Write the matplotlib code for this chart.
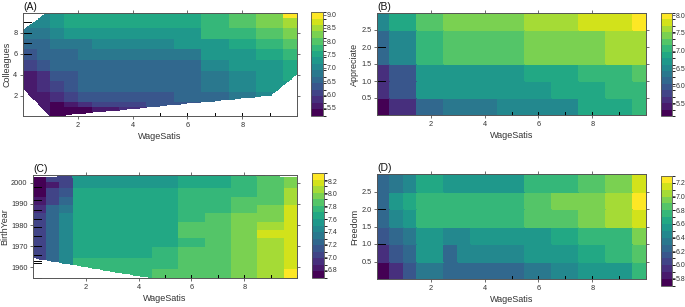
import numpy as np
import matplotlib
matplotlib.use('Agg')
import matplotlib.pyplot as plt
from matplotlib.colors import ListedColormap, BoundaryNorm
from matplotlib.path import Path

plt.rcParams['font.family'] = ['Liberation Sans', 'DejaVu Sans']

W, H = 685, 307

# shared x variable
wage_ticks = [2, 4, 6, 8]
wage_rug = [5, 6, 7, 8, 9, 10]

# (A) WageSatis x Colleagues
a_x_edges = [0, 0.5, 1.0, 1.5, 2.0, 2.5, 3.5, 4.5, 5.5, 6.5, 7.5, 8.5, 9.5, 10]
a_y_edges = [0.1, 1.0, 1.5, 2.5, 3.5, 4.5, 5.5, 6.5, 7.5, 8.5, 9.5, 9.85]
a_values = [
    [5.6, 5.45, 5.2, 5.4, 5.4, 5.5, 5.7, 6.0, 6.2, 6.4, 6.6, 6.8, 7.0],
    [5.6, 5.5, 5.4, 5.55, 5.7, 6.0, 6.0, 6.2, 6.4, 6.55, 6.75, 6.95, 7.1],
    [5.6, 5.6, 5.7, 5.95, 6.2, 6.3, 6.3, 6.4, 6.5, 6.62, 6.75, 6.95, 7.1],
    [5.6, 5.75, 6.0, 6.2, 6.5, 6.5, 6.5, 6.5, 6.6, 6.75, 6.95, 7.2, 7.35],
    [5.65, 5.9, 6.2, 6.2, 6.5, 6.5, 6.5, 6.5, 6.62, 6.88, 7.1, 7.25, 7.45],
    [6.0, 6.25, 6.5, 6.5, 6.5, 6.5, 6.5, 6.5, 6.65, 6.95, 7.2, 7.35, 7.5],
    [6.35, 6.45, 6.55, 6.55, 6.75, 6.75, 6.75, 6.75, 6.88, 7.2, 7.35, 7.55, 7.7],
    [6.5, 6.62, 6.8, 6.8, 6.8, 6.95, 6.95, 6.95, 7.2, 7.38, 7.6, 7.75, 7.95],
    [6.8, 6.9, 6.95, 7.25, 7.25, 7.25, 7.25, 7.25, 7.38, 7.7, 7.85, 7.95, 8.2],
    [7.1, 7.1, 7.2, 7.42, 7.42, 7.42, 7.42, 7.42, 7.5, 7.75, 7.95, 8.2, 8.6],
    [7.1, 7.1, 7.2, 7.42, 7.42, 7.42, 7.42, 7.42, 7.5, 7.75, 7.95, 8.2, 9.1],
]
a_hull = [(0, 2.8), (1.0, 0.12), (9.0, 2.1), (10.01, 4.2), (10.01, 9.9),
          (0.95, 9.9), (0, 8.1)]
a_yticks = [2, 4, 6, 8]
a_ylabels = ['2', '4', '6', '8']
a_rug = [6, 7, 8, 9]
a_cticks = [5.5, 6.0, 6.5, 7.0, 7.5, 8.0, 8.5, 9.0]

# (B) WageSatis x Appreciate
b_x_edges = [0, 0.5, 0.9, 1.5, 2.5, 3.5, 4.5, 5.5, 6.5, 7.5, 8.5, 9.5, 10]
b_y_edges = [0, 0.5, 1.0, 1.5, 2.5, 3.0]
b_values = [
    [5.15, 5.6, 5.6, 6.2, 6.4, 6.4, 6.6, 6.6, 6.6, 6.85, 6.85, 7.0],
    [5.6, 5.88, 6.05, 6.65, 6.72, 6.72, 6.72, 6.72, 6.85, 6.85, 7.05, 7.05],
    [5.6, 6.05, 6.05, 6.65, 6.72, 6.72, 6.72, 6.8, 6.8, 7.05, 7.05, 7.25],
    [6.15, 6.6, 6.6, 7.05, 7.25, 7.25, 7.25, 7.45, 7.45, 7.45, 7.6, 7.6],
    [6.5, 6.8, 6.8, 7.25, 7.45, 7.45, 7.45, 7.6, 7.6, 7.8, 7.8, 8.06],
]
b_yticks = [0.5, 1.0, 1.5, 2.0, 2.5]
b_ylabels = ['0.5', '1.0', '1.5', '2.0', '2.5']
b_rug = [1, 2]
b_cticks = [5.5, 6.0, 6.5, 7.0, 7.5, 8.0]

# (C) WageSatis x BirthYear
c_x_edges = [0, 0.5, 1.0, 1.5, 2.5, 3.5, 4.5, 5.5, 6.5, 7.5, 8.5, 9.5, 10]
c_y_edges = [1955, 1960, 1965, 1970, 1974, 1978, 1982, 1986, 1990, 1994,
             1998, 2001, 2003.6]
c_values = [
    [7.0, 7.22, 7.45, 7.72, 7.72, 7.75, 7.85, 7.85, 7.87, 8.0, 8.1, 8.33],
    [7.0, 7.22, 7.45, 7.72, 7.72, 7.72, 7.78, 7.85, 7.87, 8.0, 8.1, 8.18],
    [7.0, 7.22, 7.45, 7.68, 7.68, 7.7, 7.75, 7.85, 7.87, 8.0, 8.1, 8.18],
    [7.0, 7.22, 7.45, 7.66, 7.66, 7.68, 7.68, 7.77, 7.87, 8.0, 8.12, 8.2],
    [7.0, 7.22, 7.45, 7.66, 7.66, 7.68, 7.68, 7.85, 7.87, 8.0, 8.15, 8.2],
    [7.0, 7.22, 7.45, 7.66, 7.66, 7.68, 7.66, 7.85, 7.87, 8.0, 8.05, 8.18],
    [7.0, 7.22, 7.45, 7.65, 7.65, 7.66, 7.66, 7.77, 7.87, 7.92, 8.0, 8.18],
    [6.95, 7.2, 7.3, 7.65, 7.65, 7.65, 7.66, 7.77, 7.8, 7.87, 7.95, 8.15],
    [6.8, 7.05, 7.25, 7.65, 7.65, 7.65, 7.66, 7.77, 7.77, 7.87, 7.87, 8.1],
    [6.75, 7.05, 7.1, 7.62, 7.62, 7.62, 7.64, 7.77, 7.77, 7.8, 7.87, 8.1],
    [6.72, 6.85, 7.05, 7.55, 7.55, 7.55, 7.58, 7.62, 7.67, 7.77, 7.87, 8.0],
    [6.67, 7.0, 7.05, 7.55, 7.55, 7.55, 7.55, 7.62, 7.67, 7.77, 7.87, 8.0],
]
c_hull = [(0, 1964.8), (4.2, 1955.8), (6.5, 1955.2), (10.01, 1954.9),
          (10.01, 2002.2), (7.6, 2003.4), (3.3, 2003.4), (0, 2002.2)]
c_yticks = [1960, 1970, 1980, 1990, 2000]
c_ylabels = ['1960', '1970', '1980', '1990', '2000']
c_rug = [1955, 1962, 1963, 1966, 1970, 1975, 1979, 1983, 1987, 1992, 1998]
c_cticks = [6.8, 7.0, 7.2, 7.4, 7.6, 7.8, 8.0, 8.2]

# (D) WageSatis x Freedom
d_x_edges = [0, 0.5, 1.0, 1.5, 2.0, 2.5, 3.0, 3.5, 4.5, 5.5, 6.5, 7.5, 8.5, 9.5, 10]
d_y_edges = [0, 0.5, 1.0, 1.5, 2.0, 2.5, 3.0]
d_values = [
    [5.69, 5.95, 6.1, 6.3, 6.3, 6.2, 6.2, 6.2, 6.25, 6.35, 6.45, 6.55, 6.55, 6.75],
    [5.95, 6.1, 6.25, 6.55, 6.55, 6.25, 6.45, 6.45, 6.45, 6.5, 6.55, 6.62, 6.72, 6.85],
    [6.15, 6.2, 6.3, 6.5, 6.55, 6.4, 6.4, 6.5, 6.5, 6.55, 6.6, 6.75, 6.75, 6.95],
    [6.25, 6.45, 6.55, 6.75, 6.75, 6.72, 6.72, 6.72, 6.72, 6.85, 6.85, 6.95, 7.05, 7.15],
    [6.25, 6.5, 6.6, 6.75, 6.75, 6.72, 6.72, 6.72, 6.72, 6.85, 6.95, 6.95, 7.05, 7.3],
    [6.2, 6.3, 6.42, 6.62, 6.62, 6.58, 6.58, 6.58, 6.58, 6.75, 6.75, 6.85, 6.95, 7.1],
]
d_yticks = [0.5, 1.0, 1.5, 2.0, 2.5]
d_ylabels = ['0.5', '1.0', '1.5', '2.0', '2.5']
d_rug = [1, 2]
d_cticks = [5.8, 6.0, 6.2, 6.4, 6.6, 6.8, 7.0, 7.2]

N_CUTS = 16
PALETTE = ListedColormap(plt.get_cmap('viridis')(np.linspace(0, 1, N_CUTS)))
LINE = '#555555'
TEXT = '#333333'


def rect(left, top, right, bottom):
    return [left / W, 1 - bottom / H, (right - left) / W, (bottom - top) / H]


def surface(x_edges, y_edges, values, xlim, ylim, hull):
    z = np.asarray(values, dtype=float)
    if hull is None:
        return np.asarray(x_edges), np.asarray(y_edges), np.ma.masked_invalid(z)
    fx = np.linspace(xlim[0], xlim[1], 301)
    fy = np.linspace(ylim[0], ylim[1], 161)
    cx = (fx[:-1] + fx[1:]) / 2
    cy = (fy[:-1] + fy[1:]) / 2
    ix = np.clip(np.searchsorted(x_edges, cx) - 1, 0, len(x_edges) - 2)
    iy = np.clip(np.searchsorted(y_edges, cy) - 1, 0, len(y_edges) - 2)
    fz = z[np.ix_(iy, ix)]
    gx, gy = np.meshgrid(cx, cy)
    inside = Path(hull).contains_points(np.column_stack([gx.ravel(), gy.ravel()]))
    return fx, fy, np.ma.masked_where(~inside.reshape(fz.shape), fz)


def panel(fig, ax_rect, cax_rect, title, ylabel, x_edges, y_edges, values,
          xlim, ylim, yticks, ylabels, rug, cticks, hull=None):
    ax = fig.add_axes(ax_rect)
    cax = fig.add_axes(cax_rect)
    fx, fy, z = surface(x_edges, y_edges, values, xlim, ylim, hull)
    levels = np.linspace(z.min(), z.max(), N_CUTS + 1)
    norm = BoundaryNorm(levels, N_CUTS)
    mesh = ax.pcolormesh(fx, fy, z, cmap=PALETTE, norm=norm, shading='flat',
                         edgecolors='face', linewidth=0.1)
    ax.set_xlim(*xlim)
    ax.set_ylim(*ylim)
    ax.set_xticks(wage_ticks)
    ax.set_yticks(yticks)
    ax.set_yticklabels(ylabels)
    ax.tick_params(direction='out', length=2.5, width=0.6, colors=LINE,
                   labelcolor=TEXT, labelsize=5.3, pad=1.5, top=True, right=True)
    for s in ax.spines.values():
        s.set_color(LINE)
        s.set_linewidth(0.7)
    ax.set_xlabel('WageSatis', fontsize=6.5, color=TEXT, labelpad=2.5)
    ax.set_ylabel(ylabel, fontsize=6.5, color=TEXT, labelpad=1.5)
    ax.set_title(title, loc='left', fontsize=7.5, pad=2, color='#111111')

    # rug marks (deciles) drawn inside the panel
    xt = ax.get_xaxis_transform()
    for v in wage_rug:
        ax.plot([v, v], [0, 0.03], transform=xt, color='black', lw=0.7, clip_on=False)
    yt = ax.get_yaxis_transform()
    for v in rug:
        ax.plot([0, 0.03], [v, v], transform=yt, color='black', lw=0.7, clip_on=False)

    cb = fig.colorbar(mesh, cax=cax, ticks=cticks, spacing='proportional')
    cb.outline.set_linewidth(0.6)
    cb.outline.set_edgecolor(LINE)
    cax.tick_params(direction='out', length=1.8, width=0.6, colors=LINE,
                    labelcolor=TEXT, labelsize=5.0, pad=1)
    cax.set_yticklabels([f'{t:.1f}' for t in cticks])
    return ax


fig = plt.figure(figsize=(W / 100, H / 100), dpi=100)

panel(fig, rect(23, 13, 297, 116), rect(311, 12, 323, 116), '(A)', 'Colleagues',
      a_x_edges, a_y_edges, a_values, (0, 10), (0.1, 9.85), a_yticks, a_ylabels,
      a_rug, a_cticks, hull=a_hull)
panel(fig, rect(377, 13, 646, 115), rect(661, 13, 672, 116), '(B)', 'Appreciate',
      b_x_edges, b_y_edges, b_values, (0, 10), (0, 3), b_yticks, b_ylabels,
      b_rug, b_cticks)
panel(fig, rect(33, 175, 297, 278), rect(312, 173, 324, 278), '(C)', 'BirthYear',
      c_x_edges, c_y_edges, c_values, (0, 10), (1955, 2003.6), c_yticks, c_ylabels,
      c_rug, c_cticks, hull=c_hull)
panel(fig, rect(377, 174, 646, 279), rect(661, 176, 672, 286), '(D)', 'Freedom',
      d_x_edges, d_y_edges, d_values, (0, 10), (0, 3), d_yticks, d_ylabels,
      d_rug, d_cticks)

fig.savefig('out.png', dpi=100)
